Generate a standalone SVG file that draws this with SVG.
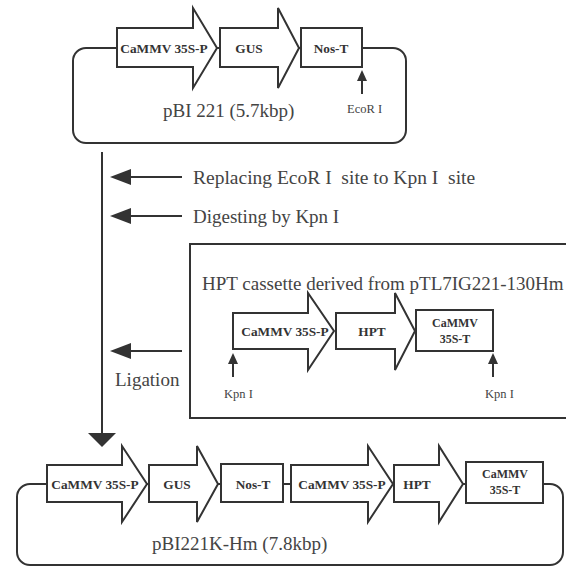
<svg xmlns="http://www.w3.org/2000/svg" width="566" height="568" viewBox="0 0 566 568">
<style>
.ln{fill:none;stroke:#333;stroke-width:2}
.el{fill:#fff;stroke:#333;stroke-width:2;stroke-linejoin:miter}
.hd{fill:#333;stroke:none}
.b{font-family:"Liberation Serif",serif;font-weight:bold;font-size:13.3px;fill:#333;text-anchor:middle}
.b2{font-family:"Liberation Serif",serif;font-weight:bold;font-size:12px;fill:#333;text-anchor:middle}
.t{font-family:"Liberation Serif",serif;font-size:19px;fill:#444;white-space:pre}
.s{font-family:"Liberation Serif",serif;font-size:12.5px;fill:#444;white-space:pre}
</style>
<rect width="566" height="568" fill="#fff"/>
<g id="connectors">
<line class="ln" x1="102" y1="152" x2="102" y2="436"/>
<polygon class="hd" points="88,433 116,433 102,447"/>
<line class="ln" x1="128" y1="177" x2="182" y2="177"/>
<polygon class="hd" points="110,177 131,169 131,185"/>
<line class="ln" x1="128" y1="216" x2="182" y2="216"/>
<polygon class="hd" points="110,216 131,208 131,224"/>
<line class="ln" x1="128" y1="351" x2="182" y2="351"/>
<polygon class="hd" points="110,351 131,343 131,359"/>
</g>
<g id="pBI221">
<rect class="ln" x="73" y="48" width="333" height="95" rx="13"/>
<g id="p1-35SP"><polygon class="el" points="117,28 193,28 193,8 217,48 193,88 193,67 117,67"/><text class="b" x="164" y="53">CaMMV 35S-P</text></g>
<g id="p1-GUS"><polygon class="el" points="220,28 278,28 278,8 299,48 278,88 278,67 220,67"/><text class="b" x="249" y="53">GUS</text></g>
<g id="p1-NosT"><rect class="el" x="301" y="28" width="61" height="39"/><text class="b" x="331" y="53">Nos-T</text></g>
<g id="p1-EcoRI"><line class="ln" x1="362" y1="80" x2="362" y2="94" stroke-width="1.2"/><polygon class="hd" points="362,70 357,81 367,81"/><text class="s" x="347" y="113">EcoR I</text></g>
<text class="t" x="163" y="117">pBI 221 (5.7kbp)</text>
</g>
<g id="step-labels">
<text class="t" x="193" y="184" style="font-size:19.5px">Replacing EcoR I  site to Kpn I  site</text>
<text class="t" x="193" y="223">Digesting by Kpn I</text>
<text class="t" x="115" y="386">Ligation</text>
</g>
<g id="hpt-cassette">
<rect class="ln" x="190" y="244" width="385" height="174"/>
<text class="t" x="202" y="290">HPT cassette derived from pTL7IG221-130Hm</text>
<g id="c-35SP"><polygon class="el" points="233,313 308,313 308,293 334,331 308,370 308,349 233,349"/><text class="b" x="285" y="336">CaMMV 35S-P</text></g>
<g id="c-HPT"><polygon class="el" points="336,313 395,313 395,293 415,331 395,370 395,349 336,349"/><text class="b" x="372" y="336">HPT</text></g>
<g id="c-35ST"><rect class="el" x="416" y="310" width="77" height="41"/><text class="b2" x="455" y="327">CaMMV</text><text class="b2" x="455" y="343">35S-T</text></g>
<g id="c-kpn1"><line class="ln" x1="233" y1="362" x2="233" y2="377" stroke-width="1.2"/><polygon class="hd" points="233,353 228,364 238,364"/><text class="s" x="224" y="398">Kpn I</text></g>
<g id="c-kpn2"><line class="ln" x1="493" y1="362" x2="493" y2="377" stroke-width="1.2"/><polygon class="hd" points="493,353 488,364 498,364"/><text class="s" x="485" y="398">Kpn I</text></g>
</g>
<g id="pBI221K-Hm">
<rect class="ln" x="17" y="484" width="546" height="81" rx="13"/>
<g id="k-35SP1"><polygon class="el" points="47,465 122,465 122,446 147,484 122,522 122,502 47,502"/><text class="b" x="95" y="489">CaMMV 35S-P</text></g>
<g id="k-GUS"><polygon class="el" points="149,465 197,465 197,446 218,484 197,522 197,502 149,502"/><text class="b" x="177" y="489">GUS</text></g>
<g id="k-NosT"><rect class="el" x="221" y="464" width="62" height="38"/><text class="b" x="253" y="489">Nos-T</text></g>
<line class="ln" x1="283" y1="484" x2="291" y2="484"/>
<g id="k-35SP2"><polygon class="el" points="291,465 368,465 368,446 393,484 368,522 368,502 291,502"/><text class="b" x="342" y="489">CaMMV 35S-P</text></g>
<g id="k-HPT"><polygon class="el" points="394,465 439,465 439,446 463,484 439,522 439,502 394,502"/><text class="b" x="417" y="489">HPT</text></g>
<g id="k-35ST"><rect class="el" x="466" y="462" width="77" height="41"/><text class="b2" x="505" y="478">CaMMV</text><text class="b2" x="505" y="494">35S-T</text></g>
<text class="t" x="152" y="550">pBI221K-Hm (7.8kbp)</text>
</g>
</svg>
